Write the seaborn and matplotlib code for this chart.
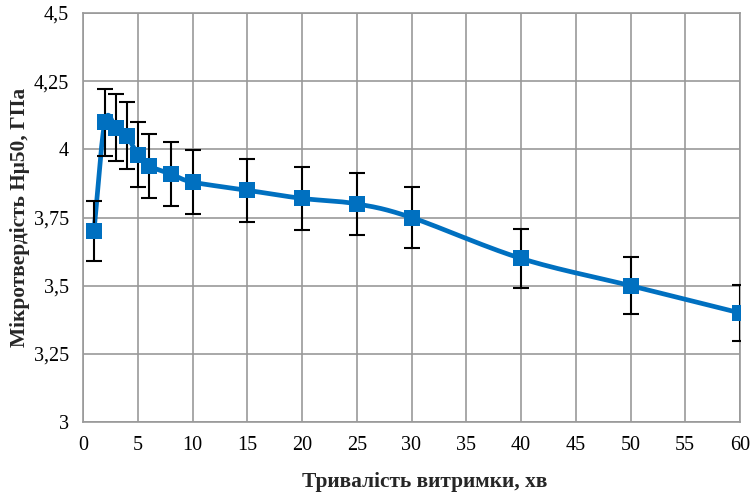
import numpy as np
import matplotlib
matplotlib.use("Agg")
import matplotlib.pyplot as plt
import seaborn as sns
import pandas as pd

time_min = [1, 2, 3, 4, 5, 6, 8, 10, 15, 20, 25, 30, 40, 50, 60]
hardness = [3.70, 4.10, 4.08, 4.05, 3.98, 3.94, 3.91, 3.88, 3.85, 3.82, 3.80, 3.75, 3.60, 3.50, 3.40]
errors = [0.111, 0.123, 0.122, 0.122, 0.119, 0.118, 0.117, 0.116, 0.116, 0.115, 0.114, 0.113, 0.108, 0.105, 0.102]
x_ticks = list(range(0, 61, 5))
y_ticks = [3.0, 3.25, 3.5, 3.75, 4.0, 4.25, 4.5]
y_tick_labels = ["3", "3,25", "3,5", "3,75", "4", "4,25", "4,5"]

sns.set_theme(style="white")
plt.rcParams['font.family'] = ['Liberation Serif', 'DejaVu Serif']

df = pd.DataFrame({"t": time_min, "h": hardness})

fig = plt.figure(figsize=(7.52, 4.95), dpi=100)
ax = fig.add_axes([83/752, 1-422/495, (740-83)/752, (422-13)/495])

# smoothed line (Catmull-Rom, like Excel smoothing)
def catmull(xs, ys, n=30):
    xs = np.asarray(xs, float); ys = np.asarray(ys, float)
    px = np.concatenate([[2*xs[0]-xs[1]], xs, [2*xs[-1]-xs[-2]]])
    py = np.concatenate([[2*ys[0]-ys[1]], ys, [2*ys[-1]-ys[-2]]])
    ox, oy = [], []
    for i in range(1, len(px)-2):
        t = np.linspace(0, 1, n, endpoint=False)
        p0, p1, p2, p3 = [np.array([px[j], py[j]]) for j in (i-1, i, i+1, i+2)]
        m1 = (p2 - p0) / 2 / 3
        m2 = (p3 - p1) / 2 / 3
        c1 = p1 + m1; c2 = p2 - m2
        for tt in t:
            b = (1-tt)**3*p1 + 3*(1-tt)**2*tt*c1 + 3*(1-tt)*tt**2*c2 + tt**3*p2
            ox.append(b[0]); oy.append(b[1])
    ox.append(xs[-1]); oy.append(ys[-1])
    return ox, oy

sx, sy = catmull(time_min, hardness)
ax.plot(sx, sy, color="#0070C0", lw=3.4, zorder=3, solid_capstyle="round")
ax.errorbar(time_min, hardness, yerr=errors, fmt="none", ecolor="black",
            elinewidth=1.5, capsize=6, capthick=1.5, zorder=4)
sns.scatterplot(data=df, x="t", y="h", marker="s", s=120, color="#0070C0",
                edgecolor="#0070C0", linewidth=0, ax=ax, zorder=5)

ax.set_xlim(0, 60)
ax.set_ylim(3, 4.5)
ax.set_xticks(x_ticks)
ax.set_yticks(y_ticks)
ax.set_yticklabels(y_tick_labels)
ax.grid(True, color="#999999", lw=1.2)
for s in ax.spines.values():
    s.set_color("#999999"); s.set_linewidth(1.2)
ax.tick_params(axis="both", labelsize=14.5, length=0, pad=10, colors="black")
ax.set_xlabel("Тривалість витримки, хв", fontsize=15.4, fontweight="bold", labelpad=12)
ax.set_ylabel("Мікротвердість Hμ50, ГПа", fontsize=15.4, fontweight="bold", labelpad=3)
ax.xaxis.label.set_x(0.52)

fig.savefig("out.png", dpi=100)
